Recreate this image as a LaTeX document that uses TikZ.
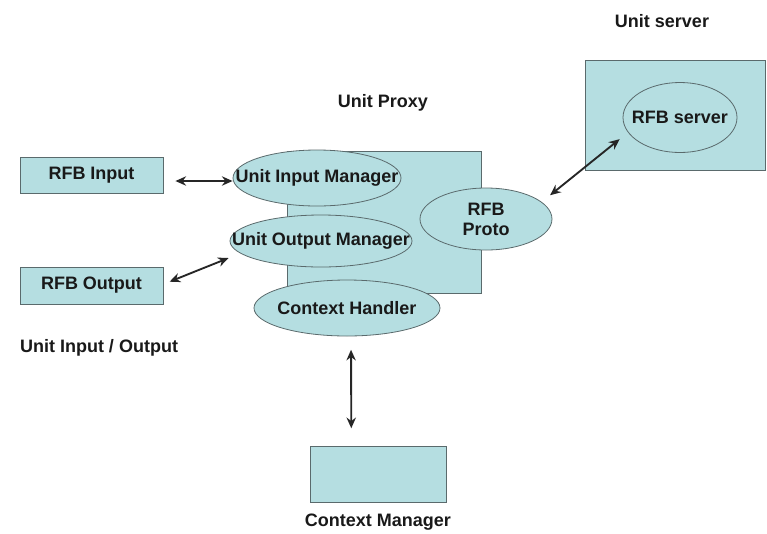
\documentclass[tikz,border=0pt]{standalone}
\usepackage{fontspec}
\setmainfont{Liberation Sans}
\usetikzlibrary{shapes.geometric,arrows.meta}
\definecolor{boxfill}{HTML}{B5DEE1}
\definecolor{boxline}{HTML}{5A6A6C}
\tikzset{
  box/.style={draw=boxline, fill=boxfill, line width=0.6pt, rectangle, inner sep=0pt},
  oval/.style={draw=boxline, fill=boxfill, line width=0.6pt, ellipse, inner sep=0pt},
  txt/.style={font=\bfseries\fontsize{13.5}{14}\selectfont, text=black!90, inner sep=0pt},
  link/.style={{Stealth[length=8pt,width=7pt]}-{Stealth[length=8pt,width=7pt]}, line width=1.4pt, black!85},
}
\begin{document}
\begin{tikzpicture}[x=0.75pt,y=-0.75pt]
\useasboundingbox (0,0) rectangle (767,533);
% labels
\node[txt] (lserver) at (662,21) {Unit server};
\node[txt] (lproxy) at (383,103) {Unit Proxy};
\node[txt] (lio) at (99,348) {Unit Input / Output};
\node[txt] (lcm) at (378,522) {Context Manager};
% boxes
\node[box, minimum width=107.25pt, minimum height=27pt, txt] (in) at (91.5,175) {RFB Input};
\node[box, minimum width=107.25pt, minimum height=27.75pt, txt] (out) at (91.5,285.5) {RFB Output};
\node[box, minimum width=145.5pt, minimum height=106.5pt] (proxy) at (384,222) {};
\node[box, minimum width=135pt, minimum height=82.5pt] (server) at (675,115) {};
\node[box, minimum width=102pt, minimum height=42pt] (cm) at (378,474) {};
% ellipses
\node[oval, minimum width=126pt, minimum height=42pt] (uim) at (317,178) {};
\node[txt] (uimt) at (uim) {Unit Input Manager};
\node[oval, minimum width=136.5pt, minimum height=39pt] (uom) at (321,241) {};
\node[txt] (uomt) at (uom) {Unit Output Manager};
\node[oval, minimum width=139.5pt, minimum height=42pt] (ch) at (347,308) {};
\node[txt] (cht) at (ch) {Context Handler};
\node[oval, minimum width=99pt, minimum height=46.5pt] (proto) at (486,219) {};
\node[txt, align=center] (protot) at (proto) {RFB\\[1pt]Proto};
\node[oval, minimum width=85.5pt, minimum height=52.5pt] (rfbs) at (680,117.5) {};
\node[txt] (rfbst) at (rfbs) {RFB server};
% connectors
\draw[link, shorten <=9pt] ([yshift=-4.5pt]in.east) -- ([yshift=-2.25pt]uim.west);
\draw[link, shorten <=5pt] ([yshift=1pt]out.east) -- ([xshift=-0.75pt,yshift=-12.75pt]uom.west);
\draw[link, shorten <=10pt, shorten >=13pt] ([xshift=3pt]ch.south) -- ([xshift=-20pt]cm.north);
\draw[link, shorten <=8pt, shorten >=8pt] (proto.17) -- (rfbs.196);
\end{tikzpicture}
\end{document}
